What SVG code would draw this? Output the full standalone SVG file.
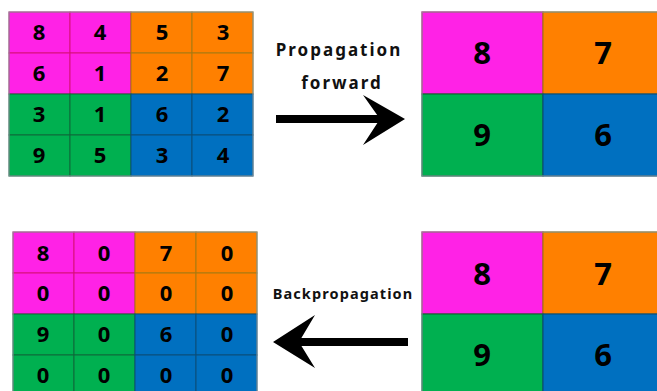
<svg xmlns="http://www.w3.org/2000/svg" width="657" height="391" viewBox="0 0 657 391">
  <style>
    .mag { fill: #FF22E6; stroke: #D8107A; stroke-width: 1; }
    .org { fill: #FF8000; stroke: #A87A10; stroke-width: 1; }
    .grn { fill: #00B050; stroke: #0E6A3A; stroke-width: 1; }
    .blu { fill: #0070C0; stroke: #0B4E7A; stroke-width: 1; }
    .big { stroke-width: 1.2; }
    .frame { fill: none; stroke: #8A9AA0; stroke-width: 1; }
    .n { font-family: "Noto Sans", "Open Sans", sans-serif; font-weight: bold; fill: #000; text-anchor: middle; }
    .s { font-size: 22px; }
    .l { font-size: 31px; }
    .lbl { font-family: "Noto Sans", "Open Sans", sans-serif; font-weight: bold; fill: #111; text-anchor: middle; }
    .arrow { fill: #000; }
  </style>
  <rect width="657" height="391" fill="#fff"/>

  <!-- 4x4 input map -->
  <g id="input-map">
    <rect class="mag" x="9" y="12" width="61" height="41"/>
    <rect class="mag" x="70" y="12" width="61" height="41"/>
    <rect class="mag" x="9" y="53" width="61" height="41"/>
    <rect class="mag" x="70" y="53" width="61" height="41"/>
    <rect class="org" x="131" y="12" width="61" height="41"/>
    <rect class="org" x="192" y="12" width="61" height="41"/>
    <rect class="org" x="131" y="53" width="61" height="41"/>
    <rect class="org" x="192" y="53" width="61" height="41"/>
    <rect class="grn" x="9" y="94" width="61" height="41"/>
    <rect class="grn" x="70" y="94" width="61" height="41"/>
    <rect class="grn" x="9" y="135" width="61" height="41"/>
    <rect class="grn" x="70" y="135" width="61" height="41"/>
    <rect class="blu" x="131" y="94" width="61" height="41"/>
    <rect class="blu" x="192" y="94" width="61" height="41"/>
    <rect class="blu" x="131" y="135" width="61" height="41"/>
    <rect class="blu" x="192" y="135" width="61" height="41"/>
    <rect class="frame" x="9" y="12" width="244" height="164"/>
    <text class="n s" x="39" y="40">8</text>
    <text class="n s" x="100" y="40">4</text>
    <text class="n s" x="162" y="40">5</text>
    <text class="n s" x="223" y="40">3</text>
    <text class="n s" x="39" y="81">6</text>
    <text class="n s" x="100" y="81">1</text>
    <text class="n s" x="162" y="81">2</text>
    <text class="n s" x="223" y="81">7</text>
    <text class="n s" x="39" y="122">3</text>
    <text class="n s" x="100" y="122">1</text>
    <text class="n s" x="162" y="122">6</text>
    <text class="n s" x="223" y="122">2</text>
    <text class="n s" x="39" y="163">9</text>
    <text class="n s" x="100" y="163">5</text>
    <text class="n s" x="162" y="163">3</text>
    <text class="n s" x="223" y="163">4</text>
  </g>

  <!-- 2x2 pooled map -->
  <g id="pooled-map">
    <rect class="mag big" x="422" y="12" width="121" height="82"/>
    <rect class="org big" x="543" y="12" width="121" height="82"/>
    <rect class="grn big" x="422" y="94" width="121" height="82"/>
    <rect class="blu big" x="543" y="94" width="121" height="82"/>
    <rect class="frame" x="422" y="12" width="242" height="164"/>
    <text class="n l" x="482" y="64">8</text>
    <text class="n l" x="603" y="64">7</text>
    <text class="n l" x="482" y="146">9</text>
    <text class="n l" x="603" y="146">6</text>
  </g>

  <!-- 2x2 gradient map -->
  <g id="gradient-map">
    <rect class="mag big" x="422" y="232" width="121" height="82"/>
    <rect class="org big" x="543" y="232" width="121" height="82"/>
    <rect class="grn big" x="422" y="314" width="121" height="82"/>
    <rect class="blu big" x="543" y="314" width="121" height="82"/>
    <rect class="frame" x="422" y="232" width="242" height="164"/>
    <text class="n l" x="482" y="285">8</text>
    <text class="n l" x="603" y="285">7</text>
    <text class="n l" x="482" y="366">9</text>
    <text class="n l" x="603" y="366">6</text>
  </g>

  <!-- 4x4 upsampled gradient -->
  <g id="upsampled-map">
    <rect class="mag" x="13" y="232" width="61" height="41"/>
    <rect class="mag" x="74" y="232" width="61" height="41"/>
    <rect class="mag" x="13" y="273" width="61" height="41"/>
    <rect class="mag" x="74" y="273" width="61" height="41"/>
    <rect class="org" x="135" y="232" width="61" height="41"/>
    <rect class="org" x="196" y="232" width="61" height="41"/>
    <rect class="org" x="135" y="273" width="61" height="41"/>
    <rect class="org" x="196" y="273" width="61" height="41"/>
    <rect class="grn" x="13" y="314" width="61" height="41"/>
    <rect class="grn" x="74" y="314" width="61" height="41"/>
    <rect class="grn" x="13" y="355" width="61" height="41"/>
    <rect class="grn" x="74" y="355" width="61" height="41"/>
    <rect class="blu" x="135" y="314" width="61" height="41"/>
    <rect class="blu" x="196" y="314" width="61" height="41"/>
    <rect class="blu" x="135" y="355" width="61" height="41"/>
    <rect class="blu" x="196" y="355" width="61" height="41"/>
    <rect class="frame" x="13" y="232" width="244" height="164"/>
    <text class="n s" x="43" y="261">8</text>
    <text class="n s" x="104" y="261">0</text>
    <text class="n s" x="166" y="261">7</text>
    <text class="n s" x="227" y="261">0</text>
    <text class="n s" x="43" y="301">0</text>
    <text class="n s" x="104" y="301">0</text>
    <text class="n s" x="166" y="301">0</text>
    <text class="n s" x="227" y="301">0</text>
    <text class="n s" x="43" y="342">9</text>
    <text class="n s" x="104" y="342">0</text>
    <text class="n s" x="166" y="342">6</text>
    <text class="n s" x="227" y="342">0</text>
    <text class="n s" x="43" y="383">0</text>
    <text class="n s" x="104" y="383">0</text>
    <text class="n s" x="166" y="383">0</text>
    <text class="n s" x="227" y="383">0</text>
  </g>

  <!-- connectors -->
  <g id="connectors">
    <g id="forward">
      <text class="lbl" x="339" y="56" font-size="17" letter-spacing="2">Propagation</text>
      <text class="lbl" x="342" y="89" font-size="17" letter-spacing="2">forward</text>
      <rect class="arrow" x="276" y="115" width="106" height="8"/>
      <path class="arrow" d="M405,119 L363,95 L380,119 L363,145 Z"/>
    </g>
    <g id="backward">
      <text class="lbl" x="343" y="299" font-size="14.5" letter-spacing="1.1">Backpropagation</text>
      <rect class="arrow" x="298" y="338" width="110" height="8"/>
      <path class="arrow" d="M273,342 L315,315 L299,342 L315,368 Z"/>
    </g>
  </g>
</svg>
